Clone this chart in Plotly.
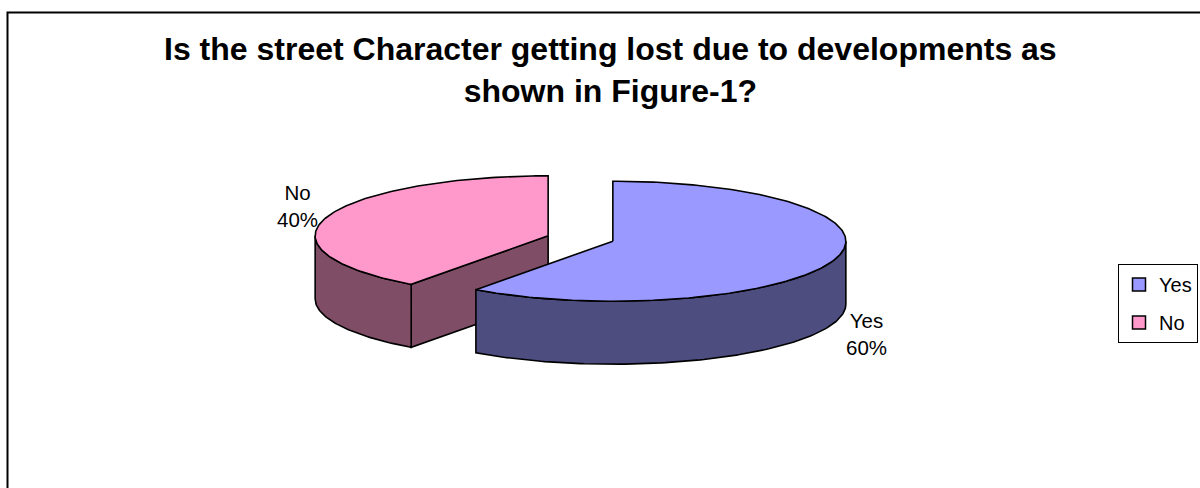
import numpy as np
import plotly.graph_objects as go

# ---- data ----
categories = ["Yes", "No"]
values = [60, 40]
top_colors = ["#9999FF", "#FF99CC"]
side_colors = ["#4D4D80", "#804D66"]
title_text = "Is the street Character getting lost due to developments as<br>shown in Figure-1?"

# ---- layout geometry (pixel space) ----
W, H = 1200, 488
CX, CY = 580.5, 238.5
RX, RY = 233.0, 60.0
DEPTH = 63.0
EXPLODE = 0.146
FONT = "Liberation Sans, Arial, sans-serif"
LABEL_POS = {"Yes": (866, 334), "No": (297, 206)}


def pt(cx, cy, t):
    r = np.radians(t)
    return cx + RX * np.sin(r), cy - RY * np.cos(r)


def arc(cx, cy, a0, a1, dy=0.0):
    ts = np.linspace(a0, a1, max(int(abs(a1 - a0)), 2) + 1)
    r = np.radians(ts)
    return list(cx + RX * np.sin(r)), list(cy - RY * np.cos(r) + dy)


total = float(sum(values))
slices = []
start = 0.0
for cat, v, tc, sc in zip(categories, values, top_colors, side_colors):
    span = 360.0 * v / total
    a0, a1 = start, start + span
    mid = np.radians((a0 + a1) / 2)
    cx = CX + EXPLODE * RX * np.sin(mid)
    cy = CY - EXPLODE * RY * np.cos(mid)
    slices.append(dict(cat=cat, v=v, a0=a0, a1=a1, cx=cx, cy=cy, tc=tc, sc=sc))
    start = a1

fig = go.Figure()
line = dict(color="black", width=1.6)


def poly(xs, ys, color):
    fig.add_trace(go.Scatter(x=xs + [xs[0]], y=ys + [ys[0]], mode="lines", fill="toself",
                             fillcolor=color, line=line, hoverinfo="skip", showlegend=False))


# draw back slices first
for s in sorted(slices, key=lambda s: s["cy"]):
    cx, cy, a0, a1 = s["cx"], s["cy"], s["a0"], s["a1"]
    # radial wall at start edge (visible when facing viewer)
    if 180 < a0 % 360 < 360:
        px, py = pt(cx, cy, a0)
        poly([cx, px, px, cx], [cy, py, py + DEPTH, cy + DEPTH], s["sc"])
    # radial wall at end edge
    if 0 < a1 % 360 < 180:
        px, py = pt(cx, cy, a1)
        poly([cx, px, px, cx], [cy, py, py + DEPTH, cy + DEPTH], s["sc"])
    # outer curved wall, front half only
    lo, hi = max(a0, 90.0), min(a1, 270.0)
    if hi > lo:
        xt, yt = arc(cx, cy, lo, hi)
        xb, yb = arc(cx, cy, lo, hi, DEPTH)
        poly(xt + xb[::-1], yt + yb[::-1], s["sc"])
    # top face
    xa, ya = arc(cx, cy, a0, a1)
    poly([cx] + xa, [cy] + ya, s["tc"])

# legend entries
for s in slices:
    fig.add_trace(go.Scatter(x=[None], y=[None], mode="markers", name=s["cat"],
                             legendgroup=s["cat"],
                             marker=dict(symbol="square", size=13, color=s["tc"],
                                         line=dict(color="black", width=1.5))))

annotations = []
for s in slices:
    lx, ly = LABEL_POS[s["cat"]]
    annotations.append(dict(x=lx, y=ly, xref="x", yref="y", showarrow=False,
                            text=f"{s['cat']}<br>{100 * s['v'] / total:.0f}%",
                            font=dict(family=FONT, size=20.5, color="black"),
                            xanchor="center", yanchor="middle", align="center"))
annotations.append(dict(x=610, y=70, xref="x", yref="y", showarrow=False, text=f"<b>{title_text}</b>",
                        font=dict(family=FONT, size=32, color="black"),
                        xanchor="center", yanchor="middle", align="center"))

fig.update_layout(
    width=W, height=H,
    margin=dict(l=0, r=0, t=0, b=0),
    paper_bgcolor="white", plot_bgcolor="white",
    xaxis=dict(range=[0, W], visible=False, fixedrange=True),
    yaxis=dict(range=[H, 0], visible=False, fixedrange=True),
    annotations=annotations,
    shapes=[dict(type="rect", xref="x", yref="y", x0=7.5, y0=12.5, x1=W + 20, y1=H + 20,
                 line=dict(color="black", width=2), fillcolor="rgba(0,0,0,0)", layer="below")],
    legend=dict(x=1118 / W, y=1 - 264 / H, xanchor="left", yanchor="top",
                bordercolor="black", borderwidth=1, bgcolor="white",
                font=dict(family=FONT, size=20, color="black"),
                tracegroupgap=9, itemclick=False, itemdoubleclick=False),
    showlegend=True,
)

fig.write_html("out.html", config={"displayModeBar": False, "staticPlot": True},
               post_script="document.body.style.margin='0';document.body.style.overflow='hidden';")
